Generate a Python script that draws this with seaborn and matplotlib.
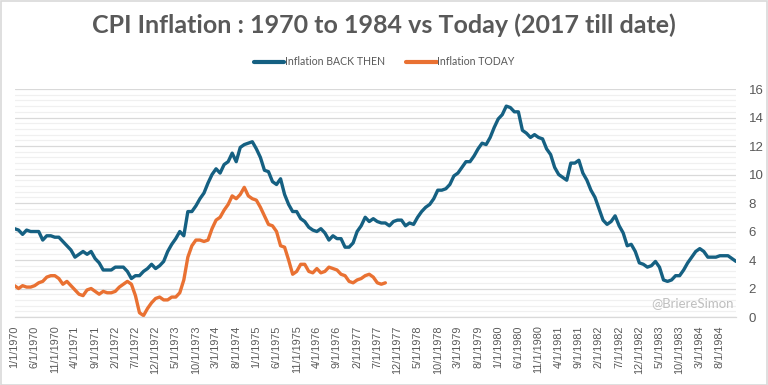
import pandas as pd
import matplotlib.pyplot as plt
import numpy as np
import seaborn as sns
from matplotlib.ticker import MultipleLocator
from matplotlib.patches import Rectangle

# US CPI YoY %, monthly, Jan 1970 -> Dec 1984
back_then = [
    6.2, 6.1, 5.8, 6.1, 6.0, 6.0, 6.0, 5.4, 5.7, 5.7, 5.6, 5.6,
    5.3, 5.0, 4.7, 4.2, 4.4, 4.6, 4.4, 4.6, 4.1, 3.8, 3.3, 3.3,
    3.3, 3.5, 3.5, 3.5, 3.2, 2.7, 2.9, 2.9, 3.2, 3.4, 3.7, 3.4,
    3.6, 3.9, 4.6, 5.1, 5.5, 6.0, 5.7, 7.4, 7.4, 7.8, 8.3, 8.7,
    9.4, 10.0, 10.4, 10.1, 10.7, 10.9, 11.5, 10.9, 11.9, 12.1, 12.2, 12.3,
    11.8, 11.2, 10.3, 10.2, 9.5, 9.3, 9.7, 8.6, 7.9, 7.4, 7.4, 6.9,
    6.7, 6.3, 6.1, 6.0, 6.2, 5.9, 5.4, 5.7, 5.5, 5.5, 4.9, 4.9,
    5.2, 6.0, 6.4, 7.0, 6.7, 6.9, 6.7, 6.6, 6.6, 6.4, 6.7, 6.8,
    6.8, 6.4, 6.6, 6.5, 7.0, 7.4, 7.7, 7.9, 8.3, 8.9, 8.9, 9.0,
    9.3, 9.9, 10.1, 10.5, 10.9, 10.9, 11.3, 11.8, 12.2, 12.1, 12.6, 13.3,
    13.9, 14.2, 14.8, 14.7, 14.4, 14.4, 13.1, 12.9, 12.6, 12.8, 12.6, 12.5,
    11.8, 11.4, 10.5, 10.0, 9.8, 9.6, 10.8, 10.8, 11.0, 10.1, 9.6, 8.9,
    8.4, 7.6, 6.8, 6.5, 6.7, 7.1, 6.4, 5.9, 5.0, 5.1, 4.6, 3.8,
    3.7, 3.5, 3.6, 3.9, 3.5, 2.6, 2.5, 2.6, 2.9, 2.9, 3.3, 3.8,
    4.2, 4.6, 4.8, 4.6, 4.2, 4.2, 4.2, 4.3, 4.3, 4.3, 4.1, 3.9,
]

# recent CPI YoY %, aligned on the same month index
today = [
    2.2, 2.0, 2.2, 2.1,
    2.1, 2.2, 2.4, 2.5, 2.8, 2.9, 2.9, 2.7, 2.3, 2.5, 2.2, 1.9,
    1.6, 1.5, 1.9, 2.0, 1.8, 1.6, 1.8, 1.7, 1.7, 1.8, 2.1, 2.3,
    2.5, 2.3, 1.5, 0.3, 0.1, 0.6, 1.0, 1.3, 1.4, 1.2, 1.2, 1.4,
    1.4, 1.7, 2.6, 4.2, 5.0, 5.4, 5.4, 5.3, 5.4, 6.2, 6.8, 7.0,
    7.5, 7.9, 8.5, 8.3, 8.6, 9.1, 8.5, 8.3, 8.2, 7.7, 7.1, 6.5,
    6.4, 6.0, 5.0, 4.9, 4.0, 3.0, 3.2, 3.7, 3.7, 3.2, 3.1, 3.4,
    3.1, 3.2, 3.5, 3.4, 3.3, 3.0, 2.9, 2.5, 2.4, 2.6, 2.7, 2.9,
    3.0, 2.8, 2.4, 2.3, 2.4,
]

months = pd.date_range("1970-01-01", periods=len(back_then), freq="MS")
month_labels = [f"{d.month}/1/{d.year}" for d in months]

df_then = pd.DataFrame({"idx": np.arange(len(back_then)), "cpi": back_then})
df_today = pd.DataFrame({"idx": np.arange(len(today)), "cpi": today})

sns.set_style("white")
plt.rcParams["font.family"] = ["Lato", "DejaVu Sans"]
tick_font = ["Liberation Sans", "DejaVu Sans"]

gray = "#595959"
blue = "#156082"
orange = "#E97132"

fig = plt.figure(figsize=(7.68, 3.85), dpi=100)
ax = fig.add_axes([0.0189, 0.1766, 0.9395, 0.5922])

sns.lineplot(data=df_then, x="idx", y="cpi", color=blue, linewidth=2.4,
             label="Inflation BACK THEN", ax=ax)
sns.lineplot(data=df_today, x="idx", y="cpi", color=orange, linewidth=2.4,
             label="Inflation TODAY", ax=ax)

ax.set_xlim(0, len(back_then) - 1)
ax.set_ylim(0, 16)
ax.yaxis.tick_right()
ax.yaxis.set_major_locator(MultipleLocator(2))
ax.yaxis.set_minor_locator(MultipleLocator(0.4))
ax.grid(True, which="major", axis="y", color="#D9D9D9", linewidth=0.9)
ax.grid(True, which="minor", axis="y", color="#F0F0F0", linewidth=0.9)
ax.set_axisbelow(True)
ax.tick_params(axis="y", which="both", length=0, pad=9)
for lab in ax.get_yticklabels():
    lab.set_family(tick_font)
    lab.set_fontsize(9.5)
    lab.set_color(gray)

tick_pos = np.arange(0, len(back_then), 5)
ax.set_xticks(tick_pos)
ax.set_xticklabels([month_labels[i] for i in tick_pos], rotation=90, fontsize=7.8,
                   color=gray, family=tick_font)
ax.tick_params(axis="x", length=4, color="#D9D9D9", width=0.9, pad=2)
ax.set_xlabel("")
ax.set_ylabel("")
for s in ["top", "left", "right"]:
    ax.spines[s].set_visible(False)
ax.spines["bottom"].set_color("#D9D9D9")
ax.spines["bottom"].set_linewidth(0.9)

leg = ax.legend(loc="center", bbox_to_anchor=(0.5, 0.8390), bbox_transform=fig.transFigure,
                ncol=2, frameon=False, fontsize=7.6, handlelength=2.9, handletextpad=0.05,
                columnspacing=2.0)
for t in leg.get_texts():
    t.set_color(gray)
for h in leg.get_lines():
    h.set_linewidth(3)

fig.text(0.5, 0.935, "CPI Inflation : 1970 to 1984 vs Today (2017 till date)",
         ha="center", va="center", fontsize=18, fontweight="bold", color=gray)
fig.text(0.955, 0.212, "@BriereSimon", ha="right", va="center", fontsize=9.5, color="#BFBFBF")

fig.patches.append(Rectangle((0.001, 0.001), 0.998, 0.997, transform=fig.transFigure,
                             fill=False, edgecolor="#D9D9D9", linewidth=1.2))

fig.savefig("out.png", dpi=100)
